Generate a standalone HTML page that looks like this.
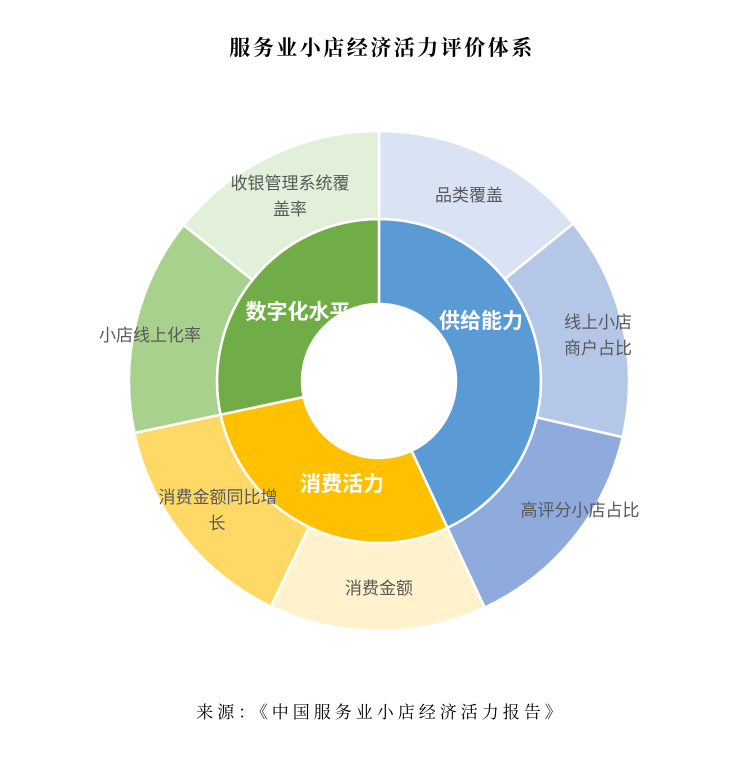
<!DOCTYPE html>
<html><head><meta charset="utf-8"><style>
html,body{margin:0;padding:0;background:#fff;}
svg{display:block;}
</style></head><body>
<svg id="s" width="750" height="758" viewBox="0 0 750 758" xmlns="http://www.w3.org/2000/svg">
<g id="arcs" stroke="#fff" stroke-width="2.5"></g>
<text x="382" y="55" text-anchor="middle" font-family="'Liberation Serif','Noto Serif CJK SC',serif" font-weight="bold" font-size="21" letter-spacing="2.5" fill="#000">服务业小店经济活力评价体系</text>
<g font-family="'Liberation Sans','Noto Sans CJK SC',sans-serif" font-size="17" fill="#595959" text-anchor="middle">
<text x="469" y="201">品类覆盖</text>
<text x="598" y="328">线上小店</text>
<text x="598" y="354">商户占比</text>
<text x="580" y="516">高评分小店占比</text>
<text x="379" y="594">消费金额</text>
<text x="218" y="503">消费金额同比增</text>
<text x="217" y="529">长</text>
<text x="150" y="341">小店线上化率</text>
<text x="290" y="189">收银管理系统覆</text>
<text x="290" y="215">盖率</text>
</g>
<g font-family="'Liberation Sans','Noto Sans CJK SC',sans-serif" font-size="21" font-weight="bold" fill="#fff" text-anchor="middle">
<text x="481" y="328">供给能力</text>
<text x="342" y="491">消费活力</text>
<text x="298" y="319">数字化水平</text>
</g>
<text x="381" y="718" text-anchor="middle" font-family="'Liberation Serif','Noto Serif CJK SC',serif" font-size="17" letter-spacing="4" fill="#000">来源：《中国服务业小店经济活力报告》</text>
</svg>
<script>
var cx=379,cy=381;
function pt(r,a){a=a*Math.PI/180;return [cx+r*Math.sin(a),cy-r*Math.cos(a)];}
function seg(r0,r1,a0,a1,c){
 var l=(a1-a0)>180?1:0;var p1=pt(r1,a0),p2=pt(r1,a1),p3=pt(r0,a1),p4=pt(r0,a0);
 var d="M"+p1+" A"+r1+","+r1+" 0 "+l+" 1 "+p2+" L"+p3+" A"+r0+","+r0+" 0 "+l+" 0 "+p4+"Z";
 var e=document.createElementNS("http://www.w3.org/2000/svg","path");e.setAttribute("d",d);e.setAttribute("fill",c);
 document.getElementById("arcs").appendChild(e);}
seg(77,162,0,155,"#5B9BD5");seg(77,162,155,258,"#FFC000");seg(77,162,258,360,"#70AD47");
seg(162,250,0,51,"#DAE3F3");seg(162,250,51,103,"#B4C7E7");seg(162,250,103,155,"#8FAADC");
seg(162,250,155,205.6,"#FFF2CC");seg(162,250,205.6,258,"#FFD966");
seg(162,250,258,308.6,"#A9D18E");seg(162,250,308.6,360,"#E2F0D9");
</script>
</body></html>
